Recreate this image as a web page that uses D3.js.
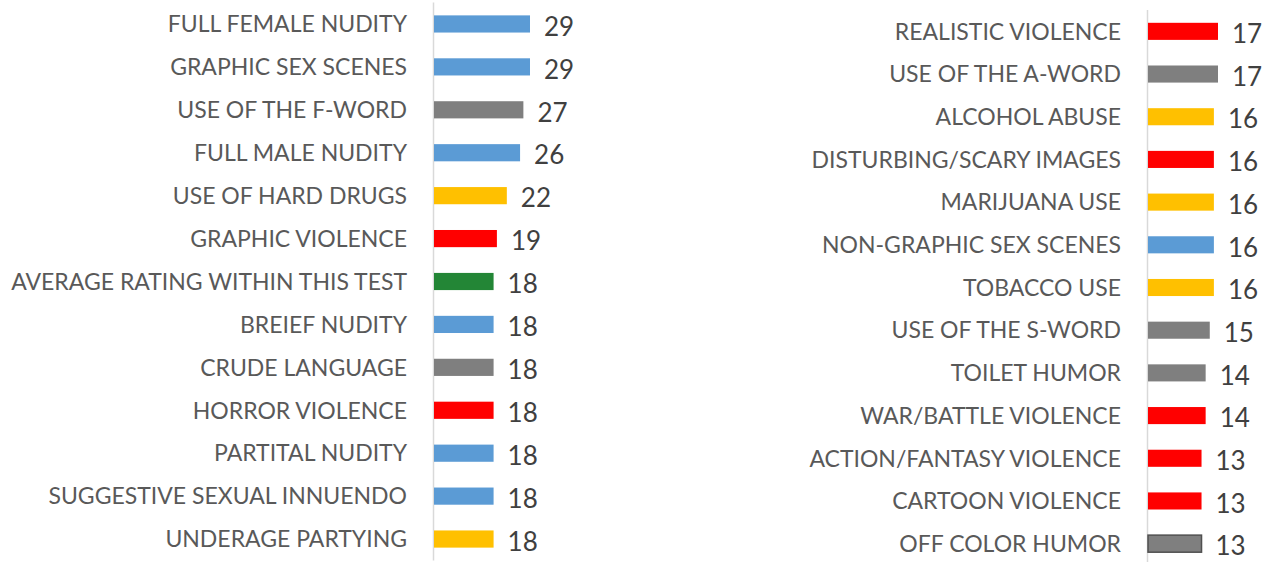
<!DOCTYPE html>
<html>
<head>
<meta charset="utf-8">
<script src="https://cdn.jsdelivr.net/npm/d3@7"></script>
<style>
  body { margin: 0; background: #fff; }
  svg { display: block; font-family: Lato, "Open Sans", sans-serif; }
</style>
</head>
<body>
<svg id="chart" width="1266" height="562"></svg>
<script>
// left panel
var leftLabels = ["FULL FEMALE NUDITY", "GRAPHIC SEX SCENES", "USE OF THE F-WORD", "FULL MALE NUDITY",
	"USE OF HARD DRUGS", "GRAPHIC VIOLENCE", "AVERAGE RATING WITHIN THIS TEST", "BREIEF NUDITY",
	"CRUDE LANGUAGE", "HORROR VIOLENCE", "PARTITAL NUDITY", "SUGGESTIVE SEXUAL INNUENDO", "UNDERAGE PARTYING"];
var leftValues = [29, 29, 27, 26, 22, 19, 18, 18, 18, 18, 18, 18, 18];
var leftKinds  = ["sex", "sex", "lang", "sex", "drug", "viol", "avg", "sex", "lang", "viol", "sex", "sex", "drug"];

// right panel
var rightLabels = ["REALISTIC VIOLENCE", "USE OF THE A-WORD", "ALCOHOL ABUSE", "DISTURBING/SCARY IMAGES",
	"MARIJUANA USE", "NON-GRAPHIC SEX SCENES", "TOBACCO USE", "USE OF THE S-WORD", "TOILET HUMOR",
	"WAR/BATTLE VIOLENCE", "ACTION/FANTASY VIOLENCE", "CARTOON VIOLENCE", "OFF COLOR HUMOR"];
var rightValues = [17, 17, 16, 16, 16, 16, 16, 15, 14, 14, 13, 13, 13];
var rightKinds  = ["viol", "lang", "drug", "viol", "drug", "sex", "drug", "lang", "lang", "viol", "viol", "viol", "humor"];

var colors = {
	sex: "#5b9bd5",
	lang: "#7f7f7f",
	drug: "#ffc000",
	viol: "#ff0000",
	avg: "#238636",
	humor: "#7f7f7f"
};

var svg = d3.select("#chart");

function panel(opts) {
	var x = d3.scaleLinear().domain([0, opts.max]).range([opts.x0 + 1, opts.x1]);
	var y = d3.scaleBand().domain(opts.labels).range(opts.yRange).paddingInner(0.6).paddingOuter(0.3);

	var g = svg.append("g");

	// vertical category axis line
	g.append("line")
		.attr("x1", opts.x0 + 0.5).attr("x2", opts.x0 + 0.5)
		.attr("y1", opts.yRange[0]).attr("y2", opts.yRange[1])
		.attr("stroke", "#d9d9d9")
		.attr("stroke-width", 1.5);

	var rows = g.selectAll("g.row")
		.data(opts.labels.map(function (d, i) {
			return {label: d, value: opts.values[i], kind: opts.kinds[i]};
		}))
		.enter().append("g").attr("class", "row");

	rows.append("rect")
		.attr("x", x(0))
		.attr("y", function (d) { return y(d.label); })
		.attr("width", function (d) { return x(d.value) - x(0); })
		.attr("height", y.bandwidth())
		.attr("fill", function (d) { return colors[d.kind]; })
		.attr("stroke", function (d) { return d.kind == "humor" ? "#505050" : "none"; })
		.attr("stroke-width", 1.5);

	rows.append("text")
		.attr("x", opts.x0 - 26)
		.attr("y", function (d) { return y(d.label) + y.bandwidth() / 2; })
		.attr("dy", "0.36em")
		.attr("text-anchor", "end")
		.attr("fill", "#595959")
		.style("font-size", "23px")
		.text(function (d) { return d.label; });

	rows.append("text")
		.attr("x", function (d) { return x(d.value) + 14; })
		.attr("y", function (d) { return y(d.label) + y.bandwidth() / 2; })
		.attr("dy", "0.45em")
		.attr("fill", "#404040")
		.style("font-size", "26px")
		.text(function (d) { return d.value; });
}

panel({labels: leftLabels, values: leftValues, kinds: leftKinds,
	max: 29, x0: 433, x1: 530, yRange: [2.5, 560.5]});

panel({labels: rightLabels, values: rightValues, kinds: rightKinds,
	max: 17, x0: 1147, x1: 1218, yRange: [10, 565]});
</script>
</body>
</html>
